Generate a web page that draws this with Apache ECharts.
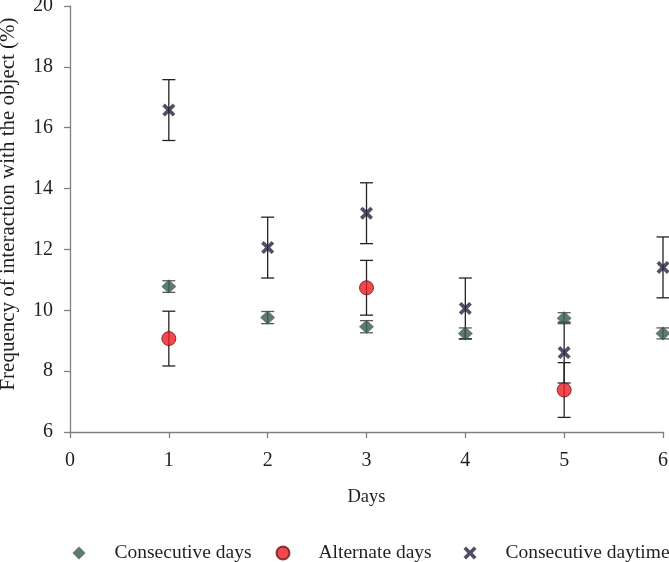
<!DOCTYPE html>
<html>
<head>
<meta charset="utf-8">
<script src="https://cdn.jsdelivr.net/npm/echarts@6/dist/echarts.min.js"></script>
<style>
html,body{margin:0;padding:0;background:#fff;}
#chart{width:669px;height:562px;}
</style>
</head>
<body>
<div id="chart"></div>
<script>
// ---- data ----
var days = [1, 2, 3, 4, 5, 6];
var consecutiveDays = [10.78, 9.76, 9.46, 9.24, 9.74, 9.24];
var consecutiveDaysErr = [0.19, 0.2, 0.2, 0.18, 0.18, 0.18];
var alternateDaysX = [1, 3, 5];
var alternateDays = [9.07, 10.74, 7.38];
var alternateDaysErr = [0.9, 0.9, 0.9];
var consecutiveDaytime = [16.58, 12.06, 13.19, 10.06, 8.61, 11.41];
var consecutiveDaytimeErr = [1.0, 1.0, 1.0, 1.0, 1.0, 1.0];
var xTicks = [0, 1, 2, 3, 4, 5, 6];
var yTicks = [6, 8, 10, 12, 14, 16, 18, 20];
var seriesNames = ['Consecutive days', 'Alternate days', 'Consecutive daytime'];

// ---- styling ----
var FONT = '"Liberation Serif", "Times New Roman", serif';
var TXT = '#231f20';
var crossPath = 'path://M0,2 L2,0 L5,3 L8,0 L10,2 L7,5 L10,8 L8,10 L5,7 L2,10 L0,8 L3,5 Z';
var C_DIAMOND = '#38574f';
var C_CIRCLE = '#ec1c24';
var C_CROSS = '#25223f';

function pairs(xs, ys) { return xs.map(function (x, i) { return [x, ys[i]]; }); }
function errData(xs, ys, es) { return xs.map(function (x, i) { return [x, ys[i] - es[i], ys[i] + es[i]]; }); }

function errSeries(data, color) {
  return {
    type: 'custom',
    silent: true,
    z: 1,
    data: data,
    renderItem: function (params, api) {
      var x = api.value(0);
      var lo = api.coord([x, api.value(1)]);
      var hi = api.coord([x, api.value(2)]);
      var hw = 6.5;
      var st = { stroke: color, lineWidth: 1.3 };
      return {
        type: 'group',
        children: [
          { type: 'line', shape: { x1: lo[0], y1: lo[1], x2: hi[0], y2: hi[1] }, style: st },
          { type: 'line', shape: { x1: lo[0] - hw, y1: lo[1], x2: lo[0] + hw, y2: lo[1] }, style: st },
          { type: 'line', shape: { x1: hi[0] - hw, y1: hi[1], x2: hi[0] + hw, y2: hi[1] }, style: st }
        ]
      };
    }
  };
}

function legendAt(left, name) {
  return {
    data: [name], left: left, top: 543, itemWidth: 13, itemHeight: 13,
    itemGap: 0, selectedMode: false, padding: 0,
    textStyle: { fontFamily: FONT, fontSize: 19.5, color: TXT, padding: [0, 0, 0, 24] }
  };
}

var chart = echarts.init(document.getElementById('chart'));
chart.setOption({
  animation: false,
  backgroundColor: '#fff',
  grid: { left: 70, right: 6, top: 6, bottom: 130, containLabel: false, outerBoundsMode: 'none' },
  legend: [
    legendAt(72.5, seriesNames[0]),
    legendAt(275.5, seriesNames[1]),
    legendAt(463.5, seriesNames[2])
  ],
  xAxis: {
    type: 'value', min: xTicks[0], max: xTicks[xTicks.length - 1], interval: 1,
    name: 'Days', nameLocation: 'middle', nameGap: 56,
    nameTextStyle: { fontFamily: FONT, fontSize: 18.5, color: TXT },
    axisLine: { lineStyle: { color: '#7f7f7f', width: 1.3 } },
    axisTick: { show: true, length: 6, lineStyle: { color: '#7f7f7f', width: 1.3 } },
    axisLabel: { margin: 19, fontFamily: FONT, fontSize: 20, color: TXT },
    splitLine: { show: false }
  },
  yAxis: {
    type: 'value', min: yTicks[0], max: yTicks[yTicks.length - 1], interval: 2,
    name: 'Frequency of interaction with the object (%)', nameLocation: 'middle', nameGap: 51,
    nameTextStyle: { fontFamily: FONT, fontSize: 21, color: TXT, padding: [0, 0, 0, 30] },
    axisLine: { show: true, lineStyle: { color: '#7f7f7f', width: 1.3 } },
    axisTick: { show: true, length: 6, lineStyle: { color: '#7f7f7f', width: 1.3 } },
    axisLabel: { margin: 17, fontFamily: FONT, fontSize: 20, color: TXT },
    splitLine: { show: false }
  },
  series: [
    errSeries(errData(days, consecutiveDays, consecutiveDaysErr), '#5a5a5a'),
    errSeries(errData(alternateDaysX, alternateDays, alternateDaysErr), '#222222'),
    errSeries(errData(days, consecutiveDaytime, consecutiveDaytimeErr), '#222222'),
    {
      name: seriesNames[0], type: 'scatter', z: 3, symbol: 'diamond', symbolSize: [15, 14],
      itemStyle: { color: C_DIAMOND }, data: pairs(days, consecutiveDays)
    },
    {
      name: seriesNames[1], type: 'scatter', z: 3, symbol: 'circle', symbolSize: 14,
      itemStyle: { color: C_CIRCLE, borderColor: '#6e1114', borderWidth: 1 }, data: pairs(alternateDaysX, alternateDays)
    },
    {
      name: seriesNames[2], type: 'scatter', z: 3, symbol: crossPath, symbolSize: 13,
      itemStyle: { color: C_CROSS }, data: pairs(days, consecutiveDaytime)
    }
  ]
});
</script>
</body>
</html>
